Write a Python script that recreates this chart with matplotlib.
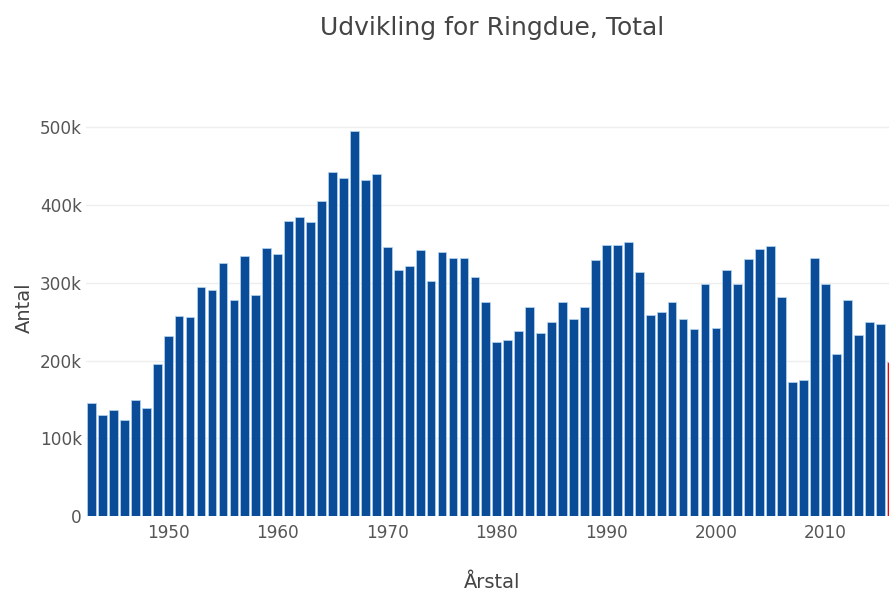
import numpy as np
import matplotlib.pyplot as plt

# Yearly totals
years = list(range(1943, 2017))
antal = [
    145000, 130000, 136000, 124000, 149000, 139000, 196000,            # 1943-1949
    232000, 257000, 256000, 294000, 291000, 326000, 278000, 334000, 284000, 345000,  # 1950-1959
    337000, 380000, 385000, 378000, 405000, 442000, 435000, 495000, 432000, 440000,  # 1960-1969
    346000, 317000, 322000, 342000, 302000, 339000, 332000, 332000, 307000, 275000,  # 1970-1979
    224000, 226000, 238000, 269000, 235000, 250000, 275000, 253000, 269000, 329000,  # 1980-1989
    349000, 348000, 353000, 314000, 259000, 262000, 275000, 254000, 240000, 299000,  # 1990-1999
    242000, 316000, 299000, 331000, 344000, 347000, 282000, 173000, 175000, 332000,  # 2000-2009
    299000, 209000, 278000, 233000, 250000, 247000, 198000,            # 2010-2016
]
highlight_year = 2016

y_ticks = [0, 100000, 200000, 300000, 400000, 500000]
y_tick_labels = ["0", "100k", "200k", "300k", "400k", "500k"]
x_ticks = [1950, 1960, 1970, 1980, 1990, 2000, 2010]

plt.rcParams["font.family"] = ["DejaVu Sans"]

fig = plt.figure(figsize=(8.89, 5.97), dpi=100)
ax = fig.add_axes([86 / 889, 81 / 597, 803 / 889, 412 / 597])

colors = ["#ff0000" if y == highlight_year else "#0b4c99" for y in years]
ax.bar(years, antal, width=0.8, color=colors, edgecolor="#b5d6f2", linewidth=0.5, zorder=2)

ax.set_xlim(1942.5, 2015.8)
ax.set_ylim(0, 530000)

ax.set_yticks(y_ticks)
ax.set_yticklabels(y_tick_labels)
ax.set_xticks(x_ticks)
ax.grid(axis="y", color="#eeeeee", linewidth=1, zorder=0)
ax.tick_params(axis="both", length=0, labelsize=12.2, colors="#555555")
ax.tick_params(axis="x", pad=6)
ax.tick_params(axis="y", pad=3)

for side in ["top", "right", "left", "bottom"]:
    ax.spines[side].set_visible(False)

fig.text(492 / 889, 1 - 28 / 597, "Udvikling for Ringdue, Total",
         ha="center", va="center", fontsize=18, color="#444444")
fig.text(492 / 889, 1 - 583 / 597, "Årstal",
         ha="center", va="center", fontsize=14, color="#444444")
fig.text(24 / 889, 1 - 308 / 597, "Antal", rotation=90,
         ha="center", va="center", fontsize=14, color="#444444")

fig.savefig("out.png", dpi=100)
